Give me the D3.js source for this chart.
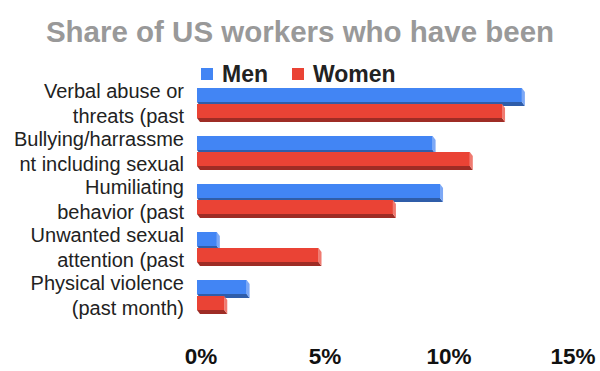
<!DOCTYPE html>
<html>
<head>
<meta charset="utf-8">
<script src="https://cdn.jsdelivr.net/npm/d3@7"></script>
<style>
  html, body { margin: 0; padding: 0; background: #fff; }
  svg { display: block; font-family: Arial, "Liberation Sans", sans-serif; }
</style>
</head>
<body>
<svg id="chart" width="600" height="371"></svg>
<script>
const categories = [
  "Verbal abuse or threats (past",
  "Bullying/harrassment including sexual",
  "Humiliating behavior (past",
  "Unwanted sexual attention (past",
  "Physical violence (past month)"
];
const categoryLines = [
  ["Verbal abuse or", "threats (past"],
  ["Bullying/harrassme", "nt including sexual"],
  ["Humiliating", "behavior (past"],
  ["Unwanted sexual", "attention (past"],
  ["Physical violence", "(past month)"]
];
const seriesNames = ["Men", "Women"];
const menValues = [13.1, 9.5, 9.8, 0.8, 2.0];
const womenValues = [12.3, 11.0, 7.9, 4.9, 1.1];
const tickValues = [0, 5, 10, 15];
const tickLabels = ["0%", "5%", "10%", "15%"];
const titleText = "Share of US workers who have been";

const colors = {
  Men:   { front: "#4285F4", bottom: "#2F5DA9", side: "#7CA8F6" },
  Women: { front: "#EA4335", bottom: "#9E2C25", side: "#F07A70" }
};

const svg = d3.select("#chart");
const x = d3.scaleLinear().domain([0, 15]).range([197, 569]);
const y = d3.scaleBand().domain(categories).range([80, 320]).paddingInner(1/3).paddingOuter(1/6);
const ySub = d3.scaleBand().domain(seriesNames).range([0, y.bandwidth()]);
const faceH = 14, dx = 3, dy = 4;

// Title
svg.append("text")
  .attr("x", 300).attr("y", 42)
  .attr("text-anchor", "middle")
  .attr("font-size", 29.5).attr("font-weight", "bold")
  .attr("fill", "#999999")
  .text(titleText);

// Legend
const legendX = [201, 292];
seriesNames.forEach((s, i) => {
  const g = svg.append("g").attr("transform", `translate(${legendX[i]},0)`);
  g.append("rect").attr("x", 0).attr("y", 68).attr("width", 12).attr("height", 12)
    .attr("fill", colors[s].front);
  g.append("text").attr("x", 21).attr("y", 82)
    .attr("font-size", 23).attr("font-weight", "bold").attr("fill", "#222")
    .text(s);
});

// Category labels
categories.forEach((c, i) => {
  const cy = y(c) + y.bandwidth() / 2;
  const t = svg.append("text").attr("text-anchor", "end").attr("font-size", 20).attr("fill", "#222");
  categoryLines[i].forEach((line, j) => {
    t.append("tspan").attr("x", 184).attr("y", cy - 6 + j * 25).text(line);
  });
});

// Bars (3D look)
const data = [];
categories.forEach((c, i) => {
  data.push({ cat: c, series: "Men", value: menValues[i] });
  data.push({ cat: c, series: "Women", value: womenValues[i] });
});

const bars = svg.append("g").selectAll("g.bar").data(data).join("g").attr("class", "bar");
bars.each(function(d) {
  const g = d3.select(this);
  const x0 = x(0), x1 = x(d.value);
  const yt = y(d.cat) + ySub(d.series);
  const yb = yt + faceH;
  const col = colors[d.series];
  g.append("path")
    .attr("d", `M${x0},${yb}L${x1},${yb}L${x1 + dx},${yb + dy}L${x0 + dx},${yb + dy}Z`)
    .attr("fill", col.bottom);
  g.append("path")
    .attr("d", `M${x1},${yt}L${x1 + dx},${yt + dy}L${x1 + dx},${yb + dy}L${x1},${yb}Z`)
    .attr("fill", col.side);
  g.append("rect").attr("x", x0).attr("y", yt).attr("width", x1 - x0).attr("height", faceH)
    .attr("fill", col.front);
});

// X axis labels
svg.append("g").selectAll("text").data(tickValues).join("text")
  .attr("x", d => x(d) + 4).attr("y", 364)
  .attr("text-anchor", "middle")
  .attr("font-size", 22.5).attr("font-weight", "bold").attr("fill", "#111")
  .text((d, i) => tickLabels[i]);
</script>
</body>
</html>
